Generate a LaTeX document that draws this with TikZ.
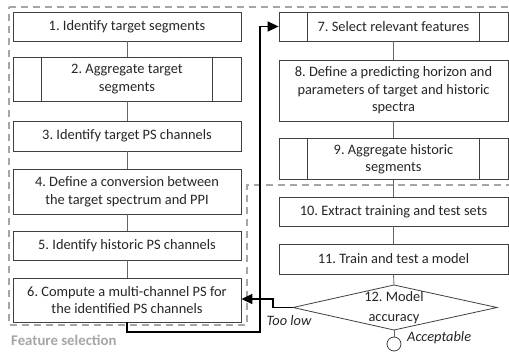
\documentclass[tikz,border=0pt]{standalone}
\usepackage{fontspec}
\setmainfont{Carlito}
\usetikzlibrary{arrows.meta}
\definecolor{txt}{HTML}{262626}
\definecolor{edge}{HTML}{404040}
\definecolor{dashgray}{HTML}{A6A6A6}
\hyphenpenalty=10000
\exhyphenpenalty=10000
\frenchspacing
\begin{document}
\begin{tikzpicture}[x=1pt,y=-1pt,
  box/.style={draw=edge,line width=0.8pt,fill=white,text=txt,align=center,
    inner sep=0pt,font=\fontsize{14.4}{17.5}\selectfont},
  lbox/.style={box,minimum width=228pt},
  rbox/.style={box,minimum width=229pt},
  conn/.style={draw=edge!80,line width=0.8pt},
  loopline/.style={draw=black,line width=1.5pt,-{Triangle[length=11pt,width=10pt]}},
  region/.style={draw=dashgray,line width=1.5pt,dash pattern=on 7pt off 5pt},
  lbl/.style={text=txt,font=\fontsize{14.4}{17}\selectfont\itshape,inner sep=0pt}]
\useasboundingbox (0,0) rectangle (509,353);
% feature selection region
\draw[region] (9,7) -- (514,7) -- (514,185) -- (247,185) -- (247,325) -- (9,325) -- cycle;
\node[anchor=west,text=dashgray,font=\fontsize{14.8}{17}\selectfont\bfseries,inner sep=0pt] (fs) at (11,340) {Feature selection};
% left column
\node[lbox,minimum height=29pt] (b1) at (127,26.5) {1. Identify target segments};
\node[lbox,minimum height=44pt] (b2) at (127,79) {2. Aggregate target\\segments};
\node[lbox,minimum height=30pt] (b3) at (127,136) {3. Identify target PS channels};
\node[lbox,minimum height=45pt] (b4) at (127,191.5) {4. Define a conversion between\\the target spectrum and PPI};
\node[lbox,minimum height=29pt] (b5) at (127,245.5) {5. Identify historic PS channels};
\node[lbox,minimum height=44pt] (b6) at (127,300) {6. Compute a multi-channel PS for\\the identified PS channels};
% right column
\node[rbox,minimum height=29pt] (b7) at (393.5,26.5) {7. Select relevant features};
\node[rbox,minimum height=61pt] (b8) at (393.5,90.5) {8. Define a predicting horizon and\\parameters of target and historic\\spectra};
\node[rbox,minimum height=41pt] (b9) at (393.5,159) {9. Aggregate historic\\segments};
\node[rbox,minimum height=29pt] (b10) at (393.5,211.5) {10. Extract training and test sets};
\node[rbox,minimum height=30pt] (b11) at (393.5,259) {11. Train and test a model};
% decision
\coordinate (dN) at (394,285);
\coordinate (dE) at (497,307.5);
\coordinate (dS) at (394,330);
\coordinate (dW) at (293,307.5);
\draw[edge,line width=0.8pt,fill=white] (dN) -- (dE) -- (dS) -- (dW) -- cycle;
\node[text=txt,align=center,inner sep=0pt,font=\fontsize{14.4}{20}\selectfont] (d) at (394,308) {12. Model\\accuracy};
\node[circle,draw=edge,line width=0.8pt,minimum size=14pt,inner sep=0pt] (end) at (394,344) {};
% predefined-process side bars
\foreach \n/\o in {b2/29,b7/29,b9/29}{
  \draw[edge,line width=0.8pt] ([xshift=\o pt]\n.north west) -- ([xshift=\o pt]\n.south west);
  \draw[edge,line width=0.8pt] ([xshift=-\o pt]\n.north east) -- ([xshift=-\o pt]\n.south east);
}
% connectors
\draw[conn] (b1) -- (b2);
\draw[conn] (b2) -- (b3);
\draw[conn] (b3) -- (b4);
\draw[conn] (b4) -- (b5);
\draw[conn] (b5) -- (b6);
\draw[conn] (b7) -- (b8);
\draw[conn] (b8) -- (b9);
\draw[conn] (b9) -- (b10);
\draw[conn] (b10) -- (b11);
\draw[conn] (b11.south) -- (dN);
\draw[conn] (dS) -- (end.north);
% loops
\coordinate (c1) at (260,332);
\draw[loopline] (b6.south) -- (b6.south |- c1) -- (c1) |- (b7.west);
\draw[loopline] (dW) -- ++(-20,0) |- ([yshift=1pt]b6.east);
% labels
\node[lbl] (tl) at (289,321) {Too low};
\node[lbl,anchor=west] (acc) at (407,338) {Acceptable};
\end{tikzpicture}
\end{document}
